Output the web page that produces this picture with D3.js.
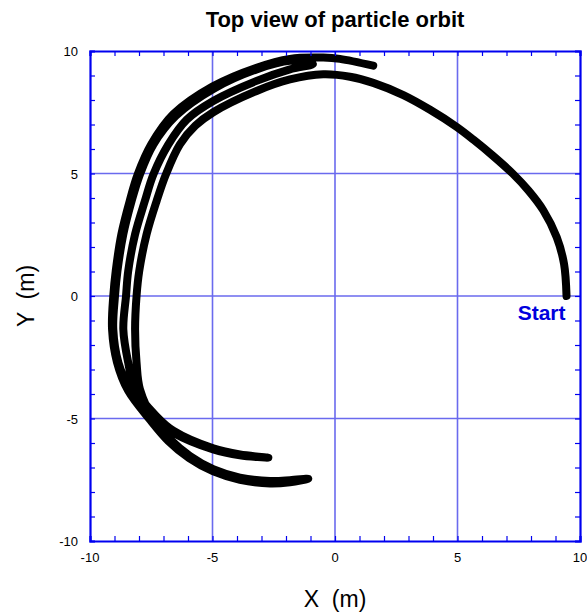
<!DOCTYPE html>
<html><head><meta charset="utf-8">
<script src="https://cdn.jsdelivr.net/npm/d3@7"></script>
<style>body{margin:0;background:#fff}svg{display:block}text{font-family:"Liberation Sans",Arial,sans-serif}</style>
</head><body>
<svg id="c" width="587" height="613"></svg>
<script>
const title = "Top view of particle orbit";
const xLabel = "X  (m)";
const yLabel = "Y  (m)";
const majorTicks = [-10, -5, 0, 5, 10];
const minorTicks = d3.range(-10, 11, 1);
const startLabel = "Start";
const startPoint = [9.45, 0];
// orbit trajectory (metres); the particle turns back at the strand ends
const orbitX = [
  9.45,9.35,9.05,8.5,7.9,7.25,6.45,5.65,4.97,3.88,2.79,1.56,0.61,-0.48,-1.84,-3.2,-4.97,-5.7,-6.33,-6.9,-7.28,-7.69,-7.99,-8.1,-8.16,-8.1,-7.96,-7.4,-6.6,-4.97,-3.88,-2.72,
  -3.88,-4.97,-6.6,-7.3,-8.16,-8.44,-8.64,-8.53,-8.44,-8.16,-7.76,-7.41,-6.8,-6.05,-4.97,-3.2,-1.84,-0.9,
  -1.84,-3.2,-4.97,-6.5,-7.41,-7.96,-8.3,-8.64,-8.88,-8.98,-9.05,-8.84,-8.37,-7.5,-6.73,-5.92,-4.97,-3.88,-2.65,-1.84,-1.09,
  -1.84,-2.65,-3.88,-4.97,-5.95,-6.8,-7.55,-8.45,-8.9,-9.1,-9.05,-8.95,-8.72,-8.38,-8.05,-7.5,-6.6,-5.0,-3.2,-1.84,-0.48,0.2,1.56];
const orbitY = [
  0,1.3,2.4,3.5,4.3,5.0,5.72,6.38,6.9,7.6,8.2,8.7,8.95,9.05,8.84,8.37,7.5,6.95,6.19,4.97,3.88,2.52,1.02,0,-1.36,-2.72,-3.81,-4.97,-5.58,-6.26,-6.5,-6.6,
  -6.47,-6.22,-5.5,-4.9,-3.81,-2.72,-1.36,0,1.02,2.52,3.88,4.97,6.19,7.2,7.96,8.78,9.25,9.47,
  9.6,9.25,8.45,7.35,6.19,4.97,3.88,2.52,1.02,0,-1.36,-2.72,-3.81,-4.97,-5.85,-6.53,-7.07,-7.41,-7.55,-7.52,-7.46,
  -7.6,-7.65,-7.5,-7.16,-6.62,-5.92,-5.05,-3.85,-2.7,-1.36,0,1.02,2.52,3.88,4.97,6.19,7.42,8.55,9.32,9.68,9.73,9.68,9.4];

const svg = d3.select("#c");
const L = 90, R = 580, T = 51, B = 541;
const x = d3.scaleLinear().domain([-10, 10]).range([L, R]);
const y = d3.scaleLinear().domain([-10, 10]).range([B, T]);
const blue = "#0000f0", grid = "#6a6aee";

// grid lines
const inner = majorTicks.filter(d => d > -10 && d < 10);
svg.append("g").selectAll("line").data(inner).join("line")
  .attr("x1", d => x(d)).attr("x2", d => x(d)).attr("y1", T).attr("y2", B)
  .attr("stroke", grid).attr("stroke-width", 1.6);
svg.append("g").selectAll("line").data(inner).join("line")
  .attr("y1", d => y(d)).attr("y2", d => y(d)).attr("x1", L).attr("x2", R)
  .attr("stroke", grid).attr("stroke-width", 1.6);

// orbit
const pts = orbitX.map((v, i) => [v, orbitY[i]]);
const line = d3.line().x(d => x(d[0])).y(d => y(d[1])).curve(d3.curveCatmullRom.alpha(0.5));
svg.append("path").attr("d", line(pts)).attr("fill", "none").attr("stroke", "#000")
  .attr("stroke-width", 8).attr("stroke-linecap", "round").attr("stroke-linejoin", "round");

// axes with inward minor ticks on all four sides
const tl = 5;
const axB = d3.axisBottom(x).tickValues(minorTicks).tickSize(-tl).tickFormat("");
const axT = d3.axisTop(x).tickValues(minorTicks).tickSize(-tl).tickFormat("");
const axLf = d3.axisLeft(y).tickValues(minorTicks).tickSize(-tl).tickFormat("");
const axRt = d3.axisRight(y).tickValues(minorTicks).tickSize(-tl).tickFormat("");
[[axB, `translate(0,${B})`], [axT, `translate(0,${T})`], [axLf, `translate(${L},0)`], [axRt, `translate(${R},0)`]].forEach(([a, t]) => {
  const g = svg.append("g").attr("transform", t).call(a);
  g.select(".domain").attr("stroke", blue).attr("stroke-width", 2.2);
  g.selectAll(".tick line").attr("stroke", blue).attr("stroke-width", 1.2);
});

// tick labels
svg.append("g").selectAll("text").data(majorTicks).join("text")
  .attr("x", d => x(d)).attr("y", 562).attr("text-anchor", "middle")
  .attr("font-size", 13).text(d => d);
svg.append("g").selectAll("text").data(majorTicks).join("text")
  .attr("x", 78).attr("y", d => y(d) + 5).attr("text-anchor", "end")
  .attr("font-size", 13).text(d => d);

// titles
svg.append("text").attr("x", 335).attr("y", 27).attr("text-anchor", "middle")
  .attr("font-size", 22).attr("font-weight", "bold").text(title);
svg.append("text").attr("x", 335).attr("y", 607).attr("text-anchor", "middle")
  .attr("font-size", 23).style("white-space", "pre").text(xLabel);
svg.append("text").attr("transform", `translate(34,${y(0)}) rotate(-90)`).attr("text-anchor", "middle")
  .attr("font-size", 23).style("white-space", "pre").text(yLabel);

// start label
svg.append("text").attr("x", x(startPoint[0]) - 1).attr("y", y(startPoint[1]) + 24).attr("text-anchor", "end")
  .attr("font-size", 21).attr("font-weight", "bold").attr("fill", "#0000dd").text(startLabel);
</script>
</body></html>
